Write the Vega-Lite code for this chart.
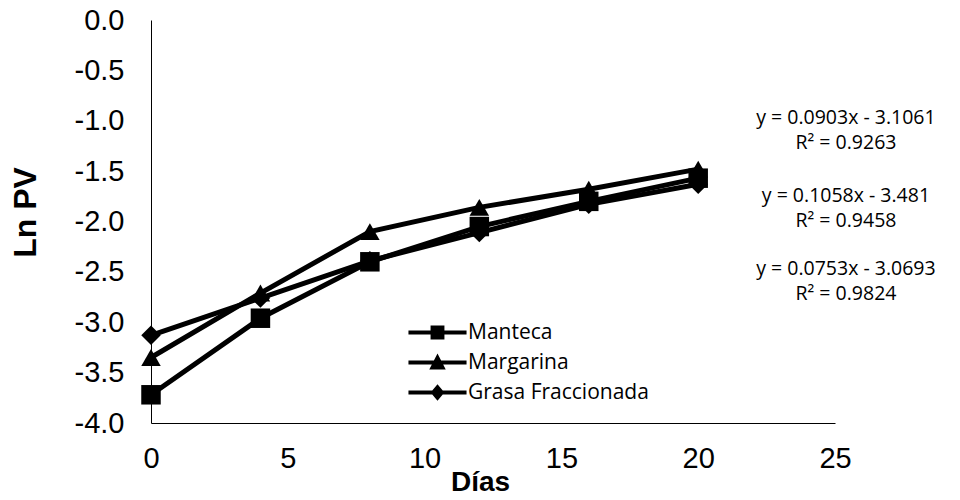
{
  "$schema": "https://vega.github.io/schema/vega-lite/v6.json",
  "width": 684,
  "height": 403,
  "autosize": {"type": "none"},
  "padding": {"left": 151, "top": 20, "right": 125, "bottom": 77},
  "background": "white",
  "config": {
    "view": {"stroke": null},
    "axis": {"grid": false, "ticks": false, "domainColor": "black", "domainWidth": 1,
             "labelFlush": false,
             "labelFont": "Liberation Sans", "labelColor": "black", "titleColor": "black",
             "titleFont": "Liberation Sans", "titleFontWeight": "bold"}
  },
  "datasets": {
    "series": [
      {"serie": "Manteca", "dias": 0, "lnpv": -3.72},
      {"serie": "Manteca", "dias": 4, "lnpv": -2.96},
      {"serie": "Manteca", "dias": 8, "lnpv": -2.40},
      {"serie": "Manteca", "dias": 12, "lnpv": -2.05},
      {"serie": "Manteca", "dias": 16, "lnpv": -1.80},
      {"serie": "Manteca", "dias": 20, "lnpv": -1.57},
      {"serie": "Margarina", "dias": 0, "lnpv": -3.35},
      {"serie": "Margarina", "dias": 4, "lnpv": -2.71},
      {"serie": "Margarina", "dias": 8, "lnpv": -2.10},
      {"serie": "Margarina", "dias": 12, "lnpv": -1.86},
      {"serie": "Margarina", "dias": 16, "lnpv": -1.68},
      {"serie": "Margarina", "dias": 20, "lnpv": -1.48},
      {"serie": "Grasa Fraccionada", "dias": 0, "lnpv": -3.13},
      {"serie": "Grasa Fraccionada", "dias": 4, "lnpv": -2.76},
      {"serie": "Grasa Fraccionada", "dias": 8, "lnpv": -2.39},
      {"serie": "Grasa Fraccionada", "dias": 12, "lnpv": -2.11},
      {"serie": "Grasa Fraccionada", "dias": 16, "lnpv": -1.83},
      {"serie": "Grasa Fraccionada", "dias": 20, "lnpv": -1.63}
    ],
    "ecuaciones": [
      {"texto": "y = 0.0903x - 3.1061\nR² = 0.9263", "dias": 25.4, "lnpv": -0.97},
      {"texto": "y = 0.1058x - 3.481\nR² = 0.9458", "dias": 25.4, "lnpv": -1.75},
      {"texto": "y = 0.0753x - 3.0693\nR² = 0.9824", "dias": 25.4, "lnpv": -2.47}
    ]
  },
  "layer": [
    {
      "data": {"name": "series"},
      "mark": {"type": "line", "color": "black", "strokeWidth": 5},
      "encoding": {
        "x": {"field": "dias", "type": "quantitative",
              "scale": {"domain": [0, 25], "nice": false},
              "axis": {"values": [0, 5, 10, 15, 20, 25], "title": "Días", "labelFontSize": 29,
                       "labelPadding": 21, "titleFontSize": 28, "titleX": 329, "titleY": 59,
                       "titleBaseline": "middle"}},
        "y": {"field": "lnpv", "type": "quantitative",
              "scale": {"domain": [-4, 0], "nice": false},
              "axis": {"values": [-4, -3.5, -3, -2.5, -2, -1.5, -1, -0.5, 0], "title": "Ln PV",
                       "labelExpr": "replace(format(datum.value, '.1f'), '−', '-')",
                       "labelFontSize": 29, "labelPadding": 27, "titleFontSize": 32,
                       "titleX": -126, "titleY": 192, "titleBaseline": "middle", "titleAlign": "center"}},
        "detail": {"field": "serie", "type": "nominal"}
      }
    },
    {
      "data": {"name": "series"},
      "mark": {"type": "point", "filled": true, "color": "black", "opacity": 1, "size": 380},
      "encoding": {
        "x": {"field": "dias", "type": "quantitative"},
        "y": {"field": "lnpv", "type": "quantitative"},
        "shape": {"field": "serie", "type": "nominal",
                  "scale": {"domain": ["Manteca", "Margarina", "Grasa Fraccionada"],
                            "range": ["square", "triangle-up", "diamond"]},
                  "legend": null}
      }
    },
    {
      "data": {"name": "series"},
      "mark": {"type": "point", "filled": true, "color": "black", "opacity": 0, "size": 1089},
      "encoding": {
        "x": {"field": "dias", "type": "quantitative"},
        "y": {"field": "lnpv", "type": "quantitative"},
        "shape": {"field": "serie", "type": "nominal",
                  "scale": {"domain": ["Manteca", "Margarina", "Grasa Fraccionada"],
                            "range": [
                              "M-1.76,-0.12H1.76V0.12H-1.76Z M-0.42,-0.42H0.42V0.42H-0.42Z",
                              "M-1.76,-0.12H1.76V0.12H-1.76Z M0,-0.55L0.5,0.42H-0.5Z",
                              "M-1.76,-0.12H1.76V0.12H-1.76Z M0,-0.5L0.42,0L0,0.5L-0.42,0Z"
                            ]},
                  "legend": {"title": null, "orient": "none", "legendX": 270, "legendY": 296,
                             "padding": 0, "symbolSize": 1089, "symbolOpacity": 1,
                             "symbolFillColor": "black", "symbolStrokeWidth": 0,
                             "labelFont": "Open Sans", "labelFontSize": 21, "labelColor": "black",
                             "labelOffset": 14, "labelLimit": 0, "rowPadding": 3}}
      }
    },
    {
      "data": {"name": "ecuaciones"},
      "mark": {"type": "text", "font": "Open Sans", "fontSize": 19.5, "color": "black",
               "align": "center", "baseline": "middle", "lineBreak": "\n", "lineHeight": 25},
      "encoding": {
        "x": {"field": "dias", "type": "quantitative"},
        "y": {"field": "lnpv", "type": "quantitative"},
        "text": {"field": "texto", "type": "nominal"}
      }
    }
  ],
  "resolve": {"scale": {"shape": "independent"}, "legend": {"shape": "independent"}}
}
